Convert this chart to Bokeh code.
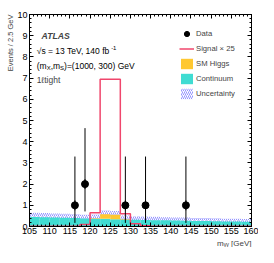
import numpy as np
from bokeh.plotting import figure
from bokeh.models import (Label, Legend, LegendItem, LinearAxis, SingleIntervalTicker, Title)
from bokeh.embed import file_html
from bokeh.resources import INLINE

# ---------------- data ----------------
bin_width = 2.5
bin_lo = np.arange(105.0, 160.0, bin_width)          # 22 bins, 105..160
continuum = [0.45, 0.44, 0.42, 0.41, 0.40, 0.38, 0.37, 0.36, 0.34, 0.33, 0.32,
             0.31, 0.30, 0.29, 0.28, 0.27, 0.26, 0.26, 0.25, 0.24, 0.23, 0.22]
sm_higgs = [0.0, 0.0, 0.0, 0.0, 0.0, 0.0, 0.02, 0.22, 0.22, 0.02, 0.0,
            0.0, 0.0, 0.0, 0.0, 0.0, 0.0, 0.0, 0.0, 0.0, 0.0, 0.0]
uncert = [0.20, 0.20, 0.19, 0.19, 0.18, 0.18, 0.18, 0.18, 0.17, 0.17, 0.16,
          0.16, 0.16, 0.15, 0.15, 0.15, 0.14, 0.14, 0.14, 0.13, 0.13, 0.13]
signal_x25 = [0.01, 0.01, 0.01, 0.01, 0.01, 0.10, 0.65, 6.95, 6.95, 0.60, 0.13,
              0.03, 0.01, 0.01, 0.01, 0.01, 0.01, 0.01, 0.01, 0.01, 0.01, 0.01]

data_x = [116.25, 118.75, 128.75, 133.75, 143.75]
data_y = [1, 2, 1, 1, 1]
data_lo = [0.17, 0.71, 0.17, 0.17, 0.17]
data_hi = [3.30, 4.64, 3.30, 3.30, 3.30]

x_title = "m\u1d67\u1d67 [GeV]"
y_title = "Events / 2.5 GeV"

# ---------------- styling ----------------
FONT = "Liberation Sans"
C_CONT = "#40dcd2"
C_HIGGS = "#ffc832"
C_SIG = "#f0466c"
C_HATCH = "#7878ff"

bin_hi = bin_lo + bin_width
cont = np.array(continuum)
higgs = np.array(sm_higgs)
total = cont + higgs
unc = np.array(uncert)

p = figure(width=258, height=247, x_range=(105, 160), y_range=(0, 10),
           output_backend="svg", toolbar_location=None,
           min_border_left=29, min_border_right=7, min_border_top=14, min_border_bottom=0)
p.grid.visible = False
p.outline_line_color = "black"
p.background_fill_color = "white"
p.border_fill_color = "white"

xt = SingleIntervalTicker(interval=5, num_minor_ticks=5)
yt = SingleIntervalTicker(interval=1, num_minor_ticks=5)


def style_axis(ax, labels=True):
    ax.major_tick_in = 4
    ax.major_tick_out = 0
    ax.minor_tick_in = 2
    ax.minor_tick_out = 0
    ax.axis_line_color = "black"
    ax.major_tick_line_color = "black"
    ax.minor_tick_line_color = "black"
    ax.major_label_text_font = FONT
    ax.major_label_text_color = "black"
    ax.major_label_text_line_height = 1.0
    ax.axis_label_standoff = 0
    if labels:
        ax.major_label_text_font_size = "9px"
    else:
        ax.major_label_text_font_size = "0px"
        ax.major_label_standoff = 0


p.xaxis.ticker = xt
p.yaxis.ticker = yt
xa = p.xaxis[0]
ya = p.yaxis[0]
style_axis(xa)
style_axis(ya)
xa.major_label_standoff = 1
ya.major_label_standoff = 2

p.add_layout(Title(text=x_title, align="right", text_font=FONT, text_font_size="8px",
                   text_font_style="normal", standoff=0, text_line_height=1.0), "below")
p.add_layout(Title(text=y_title, align="right", text_font=FONT, text_font_size="7.5px",
                   text_font_style="normal", standoff=0, text_line_height=1.0), "left")

top = LinearAxis(ticker=xt)
style_axis(top, labels=False)
p.add_layout(top, "above")
right = LinearAxis(ticker=yt)
style_axis(right, labels=False)
p.add_layout(right, "right")

# uncertainty band (behind fills)
r_unc = p.quad(left=bin_lo, right=bin_hi, bottom=total - unc, top=total + unc,
               fill_color=None, line_color=None, hatch_pattern="/",
               hatch_color=C_HATCH, hatch_scale=4, hatch_weight=0.8)
r_cont = p.quad(left=bin_lo, right=bin_hi, bottom=0, top=cont,
                fill_color=C_CONT, line_color=None)
r_higgs = p.quad(left=bin_lo, right=bin_hi, bottom=cont, top=total,
                 fill_color=C_HIGGS, line_color=None)

# signal step outline
step_x = list(bin_lo) + [bin_hi[-1]]
step_y = list(signal_x25) + [signal_x25[-1]]
r_sig = p.step(x=step_x, y=step_y, mode="after", line_color=C_SIG, line_width=1.5)

# data
p.segment(x0=data_x, y0=data_lo, x1=data_x, y1=data_hi, line_color="black", line_width=1)
r_bar = p.scatter(x=data_x, y=data_y, marker="dash", angle=np.pi / 2, size=10,
                  line_color="black", line_width=1)
r_data = p.scatter(x=data_x, y=data_y, marker="circle", size=7,
                   fill_color="black", line_color="black")

legend = Legend(items=[
    LegendItem(label="Data", renderers=[r_bar, r_data]),
    LegendItem(label="Signal \u00d7 25", renderers=[r_sig]),
    LegendItem(label="SM Higgs", renderers=[r_higgs]),
    LegendItem(label="Continuum", renderers=[r_cont]),
    LegendItem(label="Uncertainty", renderers=[r_unc]),
], location=(150, 126), padding=0, margin=0, spacing=2,
    glyph_width=15, glyph_height=13, label_height=13, label_standoff=2,
    label_text_font=FONT, label_text_font_size="7.7px",
    background_fill_alpha=0, border_line_color=None)
p.add_layout(legend)

# ---------------- texts ----------------
W = {'(': 333, ')': 333, 'm': 833, ',': 278, '=': 584, ' ': 278, 'G': 778, 'e': 556,
     'V': 667, 'X': 667, 'S': 667, '\u221a': 549, 's': 500, 'T': 611, 'f': 278,
     'b': 556, '-': 333, '[': 278, ']': 278}


def tw(s, size):
    return sum(W.get(c, 556) for c in s) * size / 1000.0


def rich(parts, x, y, size):
    off = 0.0
    for txt, scale, dy in parts:
        fs = size * scale
        p.add_layout(Label(x=x, y=y, x_offset=off, y_offset=dy, text=txt,
                           text_font=FONT, text_font_size=f"{fs:.2f}px",
                           text_baseline="middle", text_color="black"))
        off += tw(txt, fs)


p.add_layout(Label(x=108.0, y=9.0, text="ATLAS", text_font=FONT, text_font_size="8.7px",
                   text_font_style="bold italic", text_baseline="middle"))
rich([("\u221as = 13 TeV, 140 fb", 1.0, 0), ("-1", 0.7, 3)], 106.8, 8.3, 8.5)
rich([("(m", 1.0, 0), ("X", 0.7, -2), (",m", 1.0, 0), ("S", 0.7, -2),
      (")=(1000, 300) GeV", 1.0, 0)], 106.8, 7.55, 8.5)
p.add_layout(Label(x=106.8, y=6.9, text="1\u2113tight", text_font=FONT,
                   text_font_size="8.5px", text_baseline="middle"))

open("out.html", "w").write(file_html(p, INLINE))
